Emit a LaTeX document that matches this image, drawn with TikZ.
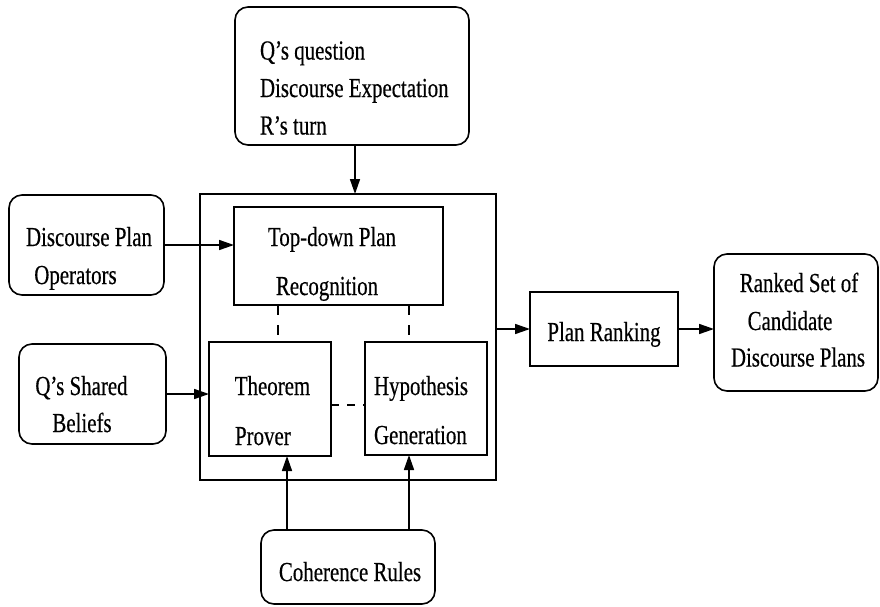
\documentclass[tikz,border=0pt]{standalone}
\usepackage{fontspec}
\setmainfont{Liberation Serif}[FakeStretch=0.76,FakeBold=0.4]
\usetikzlibrary{arrows.meta}
\begin{document}
\begin{tikzpicture}[x=1pt,y=-1pt,
  every node/.style={inner sep=0pt, outer sep=0pt},
  txt/.style={font=\fontsize{27.5}{33}\selectfont, anchor=base},
  txtl/.style={font=\fontsize{27.5}{33}\selectfont, anchor=base west},
  sq/.style={draw, line width=1.6pt},
  rbox/.style={draw, line width=1.6pt, rounded corners=13pt},
  arr/.style={line width=1.6pt, -{Triangle[length=15pt,width=10pt]}},
  dsh/.style={line width=1.4pt, dash pattern=on 10pt off 10pt},
  dshh/.style={line width=1.4pt, dash pattern=on 8pt off 8pt}]
\useasboundingbox (0,0) rectangle (880,606);

% boxes
\node[rbox, minimum width=234pt, minimum height=138pt] (top) at (352,76) {};
\node[sq, minimum width=296pt, minimum height=286pt] (big) at (348,337) {};
\node[sq, minimum width=209pt, minimum height=98pt] (tdp) at (338.5,256) {};
\node[sq, minimum width=122pt, minimum height=114pt] (thm) at (270,399) {};
\node[sq, minimum width=122pt, minimum height=113pt] (hyp) at (426,398.5) {};
\node[rbox, minimum width=155pt, minimum height=100pt] (dpo) at (86.5,245) {};
\node[rbox, minimum width=147pt, minimum height=100pt] (qsb) at (92.5,394) {};
\node[sq, minimum width=148pt, minimum height=74pt] (pr) at (604,329) {};
\node[rbox, minimum width=164pt, minimum height=137pt] (rk) at (796,322.5) {};
\node[rbox, minimum width=174pt, minimum height=74pt] (coh) at (348,567) {};

% texts
\node[txtl] (t1) at (260,59.5) {Q’s question};
\node[txtl] (t2) at (260,97) {Discourse Expectation};
\node[txtl] (t3) at (260,134.5) {R’s turn};
\node[txt] (d1) at (89,246) {Discourse Plan};
\node[txt] (d2) at (75.5,284) {Operators};
\node[txt] (q1) at (81.5,395) {Q’s Shared};
\node[txt] (q2) at (82,432) {Beliefs};
\node[txt] (r1) at (332,246) {Top-down Plan};
\node[txt] (r2) at (327,295) {Recognition};
\node[txt] (h1) at (272.5,395) {Theorem};
\node[txtl] (h2) at (235,445) {Prover};
\node[txtl] (g1) at (374,395) {Hypothesis};
\node[txtl] (g2) at (374,444) {Generation};
\node[txt] (p1) at (604,341) {Plan Ranking};
\node[txt] (k1) at (799,292) {Ranked Set of};
\node[txt] (k2) at (790,330) {Candidate};
\node[txt] (k3) at (798,366.5) {Discourse Plans};
\node[txt] (c1) at (350,581) {Coherence Rules};

% helper coordinates
\coordinate (xt) at (355,0);
\coordinate (xa) at (287,0);
\coordinate (xb) at (409,0);
\coordinate (xd) at (278,0);
\coordinate (yd) at (0,405);

% arrows
\draw[arr] (top.south -| xt) -- (big.north -| xt);
\draw[arr] (dpo.east) -- (tdp.west |- dpo.east);
\draw[arr] (qsb.east) -- (thm.west |- qsb.east);
\draw[arr] (big.east |- pr.west) -- (pr.west);
\draw[arr] (pr.east) -- (rk.west |- pr.east);
\draw[arr] (coh.north -| xa) -- (thm.south -| xa);
\draw[arr] (coh.north -| xb) -- (hyp.south -| xb);

% dashed links
\draw[dsh] (tdp.south -| xd) -- (thm.north -| xd);
\draw[dsh] (tdp.south -| xb) -- (hyp.north -| xb);
\draw[dshh] (thm.east |- yd) -- (hyp.west |- yd);
\end{tikzpicture}
\end{document}
